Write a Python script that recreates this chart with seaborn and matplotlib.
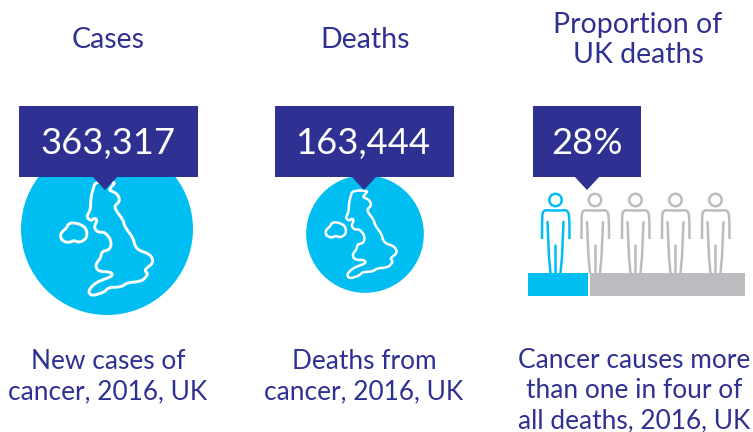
import numpy as np
import pandas as pd
import matplotlib
matplotlib.use("Agg")
import matplotlib.pyplot as plt
from matplotlib.path import Path
from matplotlib.patches import PathPatch, Polygon, Rectangle, Circle
import seaborn as sns

sns.set_theme(style="white")
plt.rcParams['font.family'] = ['Lato', 'DejaVu Sans']

NAVY, CYAN, GREY = "#2E3192", "#00BEF2", "#BBBCBF"

panels = ["Cases", "Deaths", "Proportion of\nUK deaths"]
numbers = ["363,317", "163,444", "28%"]
captions = ["New cases of\ncancer, 2016, UK", "Deaths from\ncancer, 2016, UK",
            "Cancer causes more\nthan one in four of\nall deaths, 2016, UK"]
case_value = 363317
death_value = 163444
share_values = [28, 72]
share_labels = ["Cancer", "Other causes"]

GB = [(286,275),(280,295),(273,320),(272,345),(270,362),(262,375),(262,385),(275,393),(283,383),(292,390),
      (285,405),(283,415),(295,428),(310,425),(322,435),(333,450),(333,475),(318,482),(305,485),(302,505),
      (288,520),(288,535),(300,545),(325,545),(338,550),(335,560),(305,570),(285,580),(268,597),(266,610),
      (278,617),(295,612),(315,605),(325,592),(350,592),(370,588),(380,578),(420,575),(435,565),(445,550),
      (432,542),(445,530),(458,520),(458,505),(445,490),(420,483),(405,470),(400,445),(385,425),(372,405),
      (370,390),(345,358),(345,345),(360,335),(355,315),(340,305),(325,300),(340,285),(345,275)]
IRELAND = [(180,440),(185,425),(200,415),(205,400),(225,398),(245,405),(258,415),(262,435),(255,450),
           (235,458),(222,450),(210,458),(190,455)]

def smooth(pts, closed=False):
    pts = np.asarray(pts, float)
    if closed:
        mids = (pts + np.roll(pts, -1, axis=0)) / 2
        verts, codes = [mids[-1]], [Path.MOVETO]
        for p, m in zip(pts, mids):
            verts += [p, m]
            codes += [Path.CURVE3, Path.CURVE3]
    else:
        verts, codes = [pts[0]], [Path.MOVETO]
        for i in range(1, len(pts) - 1):
            verts += [pts[i], (pts[i] + pts[i + 1]) / 2]
            codes += [Path.CURVE3, Path.CURVE3]
        verts.append(pts[-1])
        codes.append(Path.LINETO)
    return Path(np.array(verts), codes)

W, H = 753, 432
fig = plt.figure(figsize=(W / 100, H / 100), dpi=100, facecolor="white")
ax = fig.add_axes([0, 0, 1, 1])
ax.set_xlim(0, W)
ax.set_ylim(H, 0)
ax.axis("off")

# circles: area proportional to the values
R1 = 86
r_case, r_death = R1, R1 * np.sqrt(death_value / case_value) * 1.02
circles = pd.DataFrame({"x": [107, 365], "y": [229, 234], "r": [r_case, r_death]})
sns.scatterplot(data=circles, x="x", y="y", s=(2 * circles["r"] * 0.72) ** 2, color=CYAN,
                linewidth=0, ax=ax, legend=False, zorder=1)
ax.set_xlabel(""); ax.set_ylabel("")

def draw_map(scale, tx, ty, lw):
    for pts in (GB, IRELAND):
        p = np.asarray(pts, float) / 3 * scale + [tx, ty]
        ax.add_patch(PathPatch(smooth(p, True), fill=False, ec="white",
                               lw=lw, capstyle="round", joinstyle="round", zorder=2))

draw_map(1.0, 0, 90, 2.1)
draw_map(0.77, 279, 120, 1.8)

# callouts
boxes = [(19, 198, 105), (275, 454, 364), (533, 641, 587)]
num_x = [107.5, 363, 587]
for (x0, x1, tip), num, nx in zip(boxes, numbers, num_x):
    ax.add_patch(Rectangle((x0, 106), x1 - x0, 71, fc=NAVY, ec="none", zorder=3))
    ax.add_patch(Polygon([(tip - 13, 176), (tip + 13, 176), (tip, 190)], fc=NAVY, ec="none", zorder=3))
    ax.text(nx, 143.5, num, color="white", fontsize=26.2, ha="center", va="center", zorder=4)

# people
LW = 1.8
def person(cx, col):
    ax.add_patch(Circle((cx, 200), 6.2, fill=False, ec=col, lw=LW, zorder=2))
    outer = [(-13.5, 239), (-13.5, 222), (-13, 210), (-5, 210.5), (0, 210.5), (5, 210.5), (13, 210), (14, 222), (14, 239)]
    ax.add_patch(PathPatch(smooth([(cx + a, b) for a, b in outer]), fill=False, ec=col, lw=LW, zorder=2))
    for a in ([-8, -6.5, -5], [8, 6.5, 5]):
        ax.plot([cx + a[0], cx + a[1], cx + a[2]], [222, 257, 273], color=col, lw=LW, zorder=2)
    ax.plot([cx, cx], [245, 273], color=col, lw=LW, zorder=2)

for i, cx in enumerate([555.5, 595, 635.5, 675.5, 715.5]):
    person(cx, CYAN if i == 0 else GREY)

# stacked share bar
bar_ax = fig.add_axes([528 / W, 1 - 296 / H, 217 / W, 23 / H])
share = pd.DataFrame({"label": share_labels, "value": share_values, "left": [0, share_values[0]]})
for i, row in share.iterrows():
    sns.barplot(x=[row["value"]], y=[0], orient="h", left=row["left"], width=1,
                color=[CYAN, GREY][i], saturation=1, edgecolor="white", linewidth=0, ax=bar_ax)
bar_ax.axvline(share_values[0], color="white", lw=1.4)
bar_ax.set_xlim(0, 100)
bar_ax.axis("off")

# text
title_pos = [(108, 39.5), (365, 39.5), (638, 40)]
for (x, y), t in zip(title_pos, panels):
    ax.text(x, y, t, color=NAVY, fontsize=20.5, ha="center", va="center", linespacing=1.2)
cap_pos = [(108, 376.5), (364, 376.5), (634, 390.5)]
for (x, y), t in zip(cap_pos, captions):
    ax.text(x, y, t, color=NAVY, fontsize=18.9, ha="center", va="center", linespacing=1.26)

fig.savefig("out.png", dpi=100, facecolor="white")
